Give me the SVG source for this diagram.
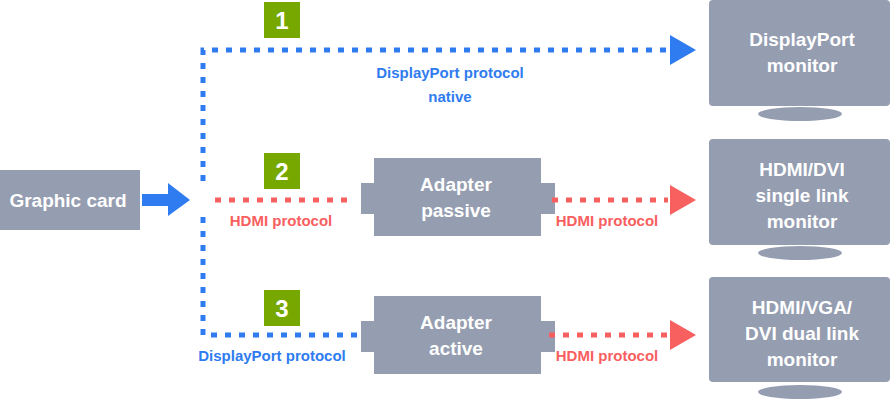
<svg xmlns="http://www.w3.org/2000/svg" width="890" height="400" viewBox="0 0 890 400">
<style>
.box{fill:#959db1}
.wt{fill:#fff;font-family:"Liberation Sans",Arial,sans-serif;font-weight:bold;font-size:19px;text-anchor:middle}
.lb{font-family:"Liberation Sans",Arial,sans-serif;font-weight:bold;font-size:15px;text-anchor:middle}
.blue{fill:#2f7cf0}.red{fill:#f86060}
.num{fill:#fff;font-family:"Liberation Sans",Arial,sans-serif;font-weight:bold;font-size:24px;text-anchor:middle}
.dl{fill:none;stroke-width:5;stroke-dasharray:6 8}
.db{stroke:#2f7cf0}.dr{stroke:#f86060}
</style>
<rect width="890" height="400" fill="#fff"/>
<g id="graphic-card"><rect class="box" x="0" y="170" width="140" height="60"/><text class="wt" x="68" y="207">Graphic card</text></g>
<g id="mon1"><rect class="box" x="709" y="0" width="181" height="106" rx="4"/><ellipse class="box" cx="800" cy="114" rx="42" ry="7"/><text class="wt" x="802" y="46">DisplayPort</text><text class="wt" x="802" y="72">monitor</text></g>
<g id="mon2"><rect class="box" x="709" y="139" width="181" height="106" rx="4"/><ellipse class="box" cx="800" cy="253" rx="42" ry="7"/><text class="wt" x="802" y="176">HDMI/DVI</text><text class="wt" x="802" y="202">single link</text><text class="wt" x="802" y="228">monitor</text></g>
<g id="mon3"><rect class="box" x="709" y="277" width="181" height="105" rx="4"/><ellipse class="box" cx="800" cy="392" rx="42" ry="7"/><text class="wt" x="802" y="314">HDMI/VGA/</text><text class="wt" x="802" y="340">DVI dual link</text><text class="wt" x="802" y="366">monitor</text></g>
<g id="adapter-passive"><rect class="box" x="374" y="158" width="167" height="78"/><rect class="box" x="361" y="183" width="194" height="31"/><text class="wt" x="456" y="191">Adapter</text><text class="wt" x="456" y="217">passive</text></g>
<g id="adapter-active"><rect class="box" x="374" y="296" width="167" height="78"/><rect class="box" x="361" y="321" width="194" height="31"/><text class="wt" x="456" y="329">Adapter</text><text class="wt" x="456" y="355">active</text></g>
<g id="badges"><rect x="264" y="2" width="36" height="36" fill="#76a800"/><text class="num" x="282" y="29">1</text><rect x="264" y="153" width="36" height="36" fill="#76a800"/><text class="num" x="282" y="180">2</text><rect x="264" y="290" width="36" height="36" fill="#76a800"/><text class="num" x="282" y="317">3</text></g>
<g id="connectors">
<polygon class="blue" points="142,194 168,194 168,183 190,200 168,216 168,206 142,206"/>
<path class="dl db" d="M203,181 V50 H668"/>
<path class="dl db" d="M203,217 V335 H362"/>
<polygon class="blue" points="670,35 696,50 670,65"/>
<path class="dl dr" d="M215,200 H350"/>
<path class="dl dr" d="M552,200 H668"/>
<polygon class="red" points="670,185 696,200 670,215"/>
<path class="dl dr" d="M549,335 H668"/>
<polygon class="red" points="670,320 696,335 670,350"/>
</g>
<g id="labels">
<text class="lb blue" x="450" y="78">DisplayPort protocol</text>
<text class="lb blue" x="450" y="102">native</text>
<text class="lb red" x="281" y="226">HDMI protocol</text>
<text class="lb red" x="607" y="226">HDMI protocol</text>
<text class="lb red" x="607" y="361">HDMI protocol</text>
<text class="lb blue" x="272" y="361">DisplayPort protocol</text>
</g>
</svg>
